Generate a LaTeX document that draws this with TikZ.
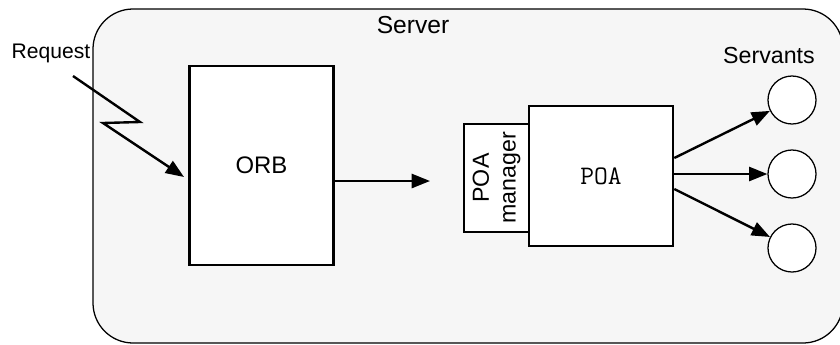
\documentclass[tikz,border=0pt]{standalone}
\usepackage{fontspec}
\setmainfont{Liberation Sans}
\usepackage{xcolor}
\usetikzlibrary{arrows.meta}
\definecolor{serverbg}{HTML}{F6F6F6}

\begin{document}
\begin{tikzpicture}[x=0.025cm, y=-0.025cm,
    box/.style={draw, line width=1.8pt, fill=white, inner sep=0pt},
    servant/.style={draw, line width=0.9pt, fill=white, circle, minimum size=1.2cm, inner sep=0pt},
    link/.style={line width=1.7pt, -{Triangle[length=13pt, width=10pt]}},
    every node/.style={font=\fontsize{16.5}{19}\selectfont}]
    \useasboundingbox (0,0) rectangle (840,344);
    % server frame
    \draw[line width=0.9pt, fill=serverbg, rounded corners=1cm] (93,9) rectangle (843,343);
    \node (server) at (413,25) {\fontsize{17.5}{20}\selectfont Server};
    \node (request) at (51,53) {\fontsize{15}{17}\selectfont Request};
    \node (servants) at (769,56) {\fontsize{16.5}{19}\selectfont Servants};
    % boxes
    \node[box, minimum width=3.6cm, minimum height=4.975cm] (orb) at (261.5,165.5) {\fontsize{17}{19}\selectfont ORB};
    \node[box, minimum width=3.6cm, minimum height=3.5cm] (poa) at (601,176) {\ttfamily\fontsize{19}{20}\selectfont POA};
    \node[box, rotate=90, minimum width=2.7cm, minimum height=1.625cm, align=center] (mgr) at (496.5,178) {POA\\manager};
    % servants
    \node[servant] (srv1) at (792,100) {};
    \node[servant] (srv2) at (792,174) {};
    \node[servant] (srv3) at (792,248) {};
    % request bolt
    \coordinate (bolt) at (73,76);
    \coordinate (hit) at (184,177);
    \draw[link] (bolt) -- (140,122) -- (103,123) -- (hit);
    % orb to poa
    \coordinate (dispatch) at (430,181);
    \draw[link] (orb.east |- dispatch) -- (dispatch);
    \draw[link] (poa.east |- 0,158) -- (srv1);
    \draw[link] (poa.east |- srv2) -- (srv2);
    \draw[link] (poa.east |- 0,189) -- (srv3);
\end{tikzpicture}
\end{document}
